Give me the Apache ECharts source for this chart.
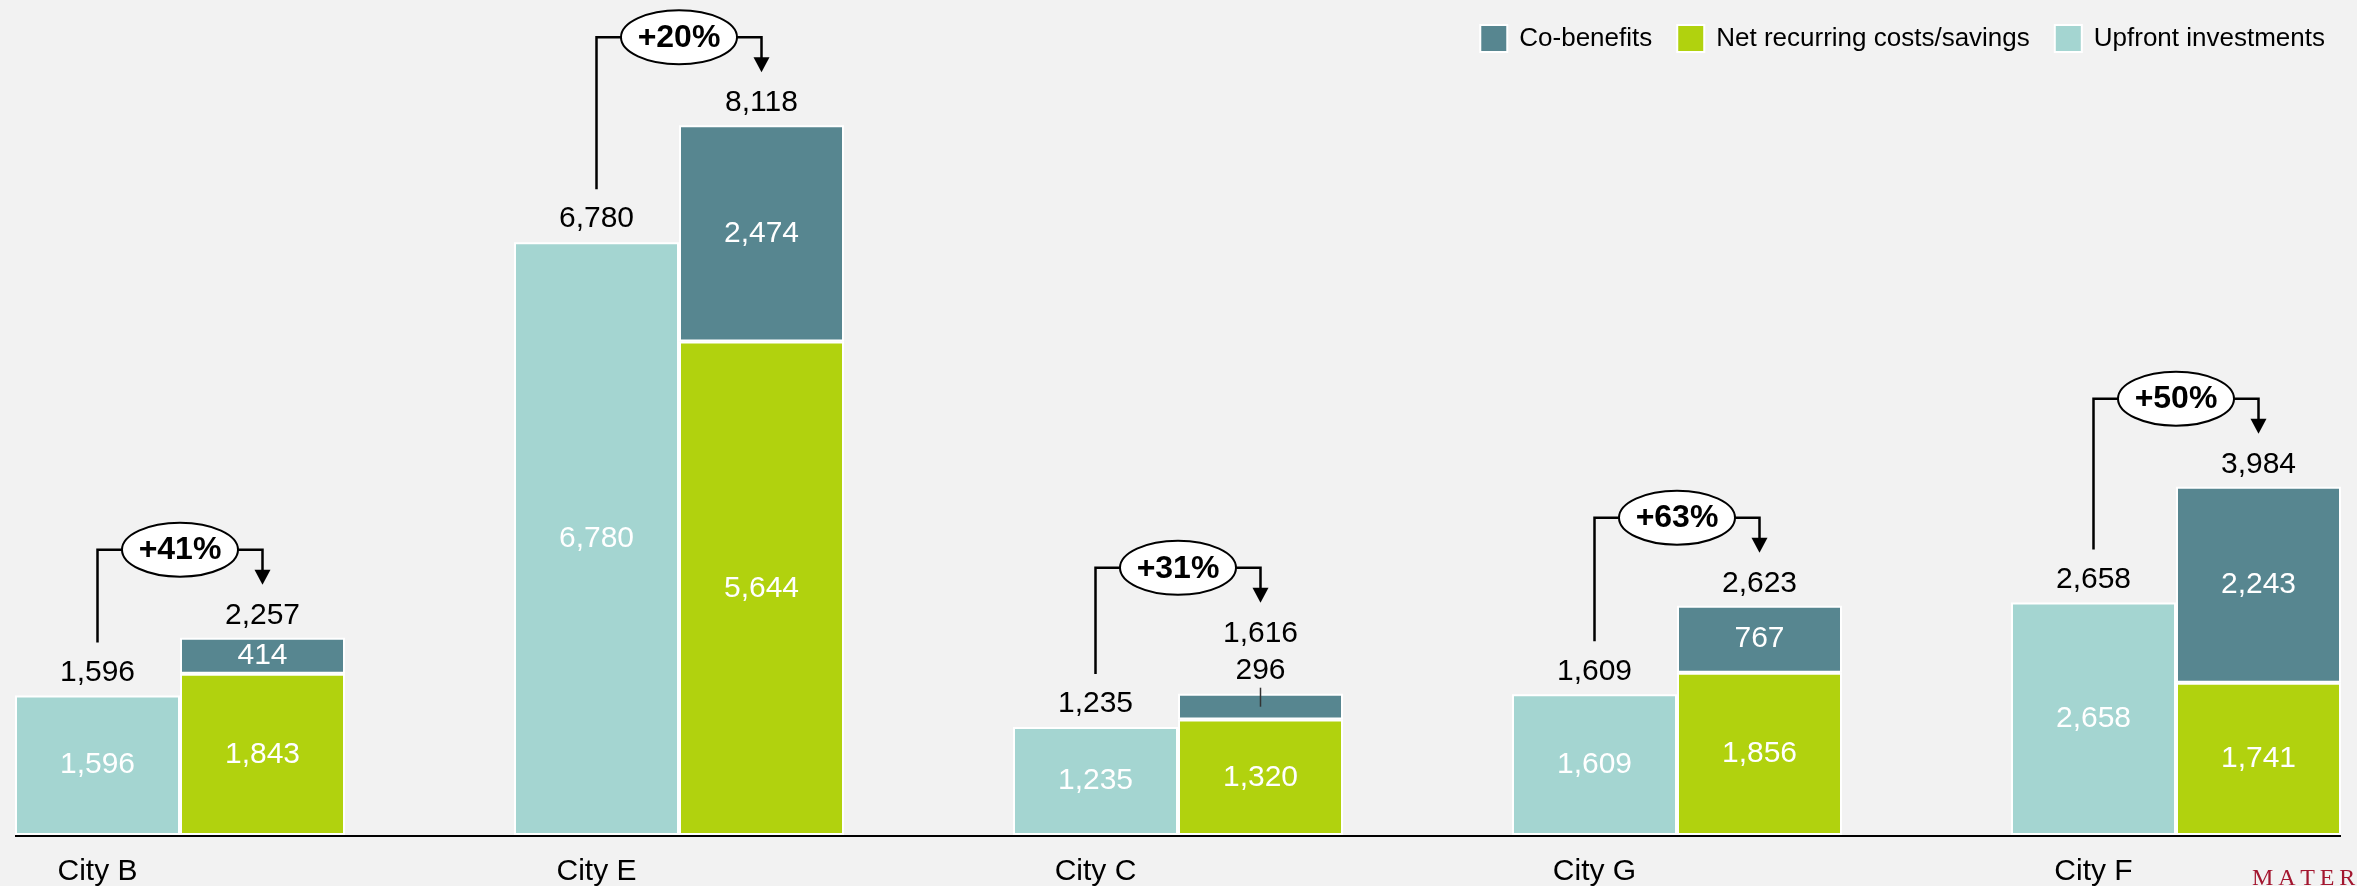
<!DOCTYPE html>
<html>
<head>
<meta charset="utf-8">
<title>Upfront investments vs. recurring costs and co-benefits</title>
<script src="https://cdn.jsdelivr.net/npm/echarts@6/dist/echarts.min.js"></script>
<style>
  html, body { margin: 0; padding: 0; background: #f2f2f2; }
  #chart { width: 2357px; height: 886px; }
</style>
</head>
<body>
<div id="chart"></div>
<script>
// data
const cities = ['City B', 'City E', 'City C', 'City G', 'City F']
const upfront = [1596, 6780, 1235, 1609, 2658]
const netRecurring = [1843, 5644, 1320, 1856, 1741]
const coBenefits = [414, 2474, 296, 767, 2243]

const totals = netRecurring.map((v, i) => v + coBenefits[i])
const growth = totals.map((t, i) => '+' + Math.round((t / upfront[i] - 1) * 100) + '%')
const fmt = v => v.toLocaleString('en-US')

const FONT = '"Liberation Sans", Arial, sans-serif'
const BAR_W = 165
const SMALL = 350 // co-benefit segments below this get their label outside
const RAISE = 38  // how far the total label moves up when that happens

const chart = echarts.init(document.getElementById('chart'))

const barBorder = { borderColor: '#fff', borderWidth: 2 }
const inLabel = {
	show: true, position: 'inside', color: '#fff', fontSize: 30, fontFamily: FONT,
	formatter: p => fmt(p.value)
}

const option = {
	backgroundColor: '#f2f2f2',
	animation: false,
	grid: { left: 180, right: 181, top: 0, bottom: 51, outerBoundsMode: 'none' },
	legend: {
		right: 27, top: 19,
		itemWidth: 27, itemHeight: 27, itemGap: 24,
		icon: 'rect',
		data: ['Co-benefits', 'Net recurring costs/savings', 'Upfront investments'],
		textStyle: { fontSize: 26, fontFamily: FONT, color: '#000', padding: [0, 0, 0, 7] }
	},
	xAxis: {
		type: 'category',
		data: cities,
		boundaryGap: false,
		axisLine: { show: false },
		axisTick: { show: false },
		axisLabel: {
			color: '#000', fontSize: 30, fontFamily: FONT, margin: 22,
			padding: [0, BAR_W, 0, 0]
		}
	},
	yAxis: { type: 'value', min: 0, max: 9550, show: false, splitLine: { show: false } },
	series: [
		{
			name: 'Upfront investments', type: 'bar', stack: 'up', stackStrategy: 'all',
			barWidth: BAR_W, barGap: '0%', clip: false,
			itemStyle: Object.assign({ color: '#a4d5d1' }, barBorder),
			label: inLabel,
			data: upfront
		},
		{
			name: 'upfrontTop', type: 'bar', stack: 'up', stackStrategy: 'all',
			barWidth: BAR_W, clip: false, silent: true,
			itemStyle: { color: 'transparent', borderWidth: 0 },
			label: {
				show: true, position: 'top', distance: 8, color: '#000', fontSize: 30, fontFamily: FONT,
				formatter: p => fmt(upfront[p.dataIndex])
			},
			data: upfront.map(() => 0)
		},
		{
			name: 'Net recurring costs/savings', type: 'bar', stack: 'sav', stackStrategy: 'all',
			barWidth: BAR_W, clip: false,
			itemStyle: Object.assign({ color: '#b1d20e' }, barBorder),
			label: inLabel,
			data: netRecurring
		},
		{
			name: 'Co-benefits', type: 'bar', stack: 'sav', stackStrategy: 'all',
			barWidth: BAR_W, clip: false,
			itemStyle: Object.assign({ color: '#578690' }, barBorder),
			label: inLabel,
			data: coBenefits.map(v => v < SMALL
				? { value: v, label: { position: 'top', distance: 8, color: '#000' } }
				: v)
		},
		{
			name: 'total', type: 'bar', stack: 'sav', stackStrategy: 'all',
			barWidth: BAR_W, clip: false, silent: true,
			itemStyle: { color: 'transparent', borderWidth: 0 },
			label: {
				show: true, position: 'top', color: '#000', fontSize: 30, fontFamily: FONT,
				formatter: p => fmt(totals[p.dataIndex])
			},
			data: coBenefits.map(v => ({ value: 0, label: { distance: v < SMALL ? 7 + RAISE : 7 } }))
		}
	]
}

chart.setOption(option)

// brackets with growth ovals, axis line and leader ticks
function drawExtras() {
	const px = (i, v) => chart.convertToPixel({ gridIndex: 0 }, [i, v])
	const g = []
	const y0 = px(0, 0)[1]
	g.push({
		type: 'line', z: 10,
		shape: { x1: px(0, 0)[0] - BAR_W, y1: y0 + 1, x2: px(cities.length - 1, 0)[0] + BAR_W, y2: y0 + 1 },
		style: { stroke: '#000', lineWidth: 2 }
	})
	cities.forEach((c, i) => {
		const cx = px(i, 0)[0]
		const xU = cx - BAR_W / 2
		const xN = cx + BAR_W / 2
		const small = coBenefits[i] < SMALL
		const yU = px(i, upfront[i])[1]
		const yBar = px(i, totals[i])[1]
		const yT = yBar - (small ? RAISE : 0)
		const by = Math.min(yU, yT) - 88
		const tip = yT - 53
		g.push({
			type: 'polyline', z: 10,
			shape: { points: [[xU, yU - 53], [xU, by], [xN, by], [xN, tip - 14]] },
			style: { stroke: '#000', lineWidth: 2.5, fill: null }
		})
		g.push({
			type: 'polygon', z: 10,
			shape: { points: [[xN - 8, tip - 15], [xN + 8, tip - 15], [xN, tip]] },
			style: { fill: '#000' }
		})
		g.push({
			type: 'ellipse', z: 11,
			shape: { cx: cx, cy: by, rx: 58, ry: 27 },
			style: { fill: '#fff', stroke: '#000', lineWidth: 2 }
		})
		g.push({
			type: 'text', z: 12, x: cx, y: by + 1,
			style: {
				text: growth[i], fill: '#000', align: 'center', verticalAlign: 'middle',
				font: 'bold 32px ' + FONT
			}
		})
		if (small) {
			g.push({
				type: 'line', z: 10,
				shape: { x1: xN, y1: yBar - 6, x2: xN, y2: yBar + 13 },
				style: { stroke: '#333', lineWidth: 1.5 }
			})
		}
	})
	// cut-off source mark in the corner
	g.push({
		type: 'text', z: 12, x: 2252, y: 867,
		style: {
			text: 'M\u2009A\u2009T\u2009E\u2009R\u2009I\u2009A\u2009L', fill: '#a3162f',
			font: '24px "Liberation Serif", "Times New Roman", serif'
		}
	})
	chart.setOption({ graphic: g })
}
drawExtras()

window.addEventListener('resize', function () {
	chart.resize()
	drawExtras()
})
</script>
</body>
</html>
